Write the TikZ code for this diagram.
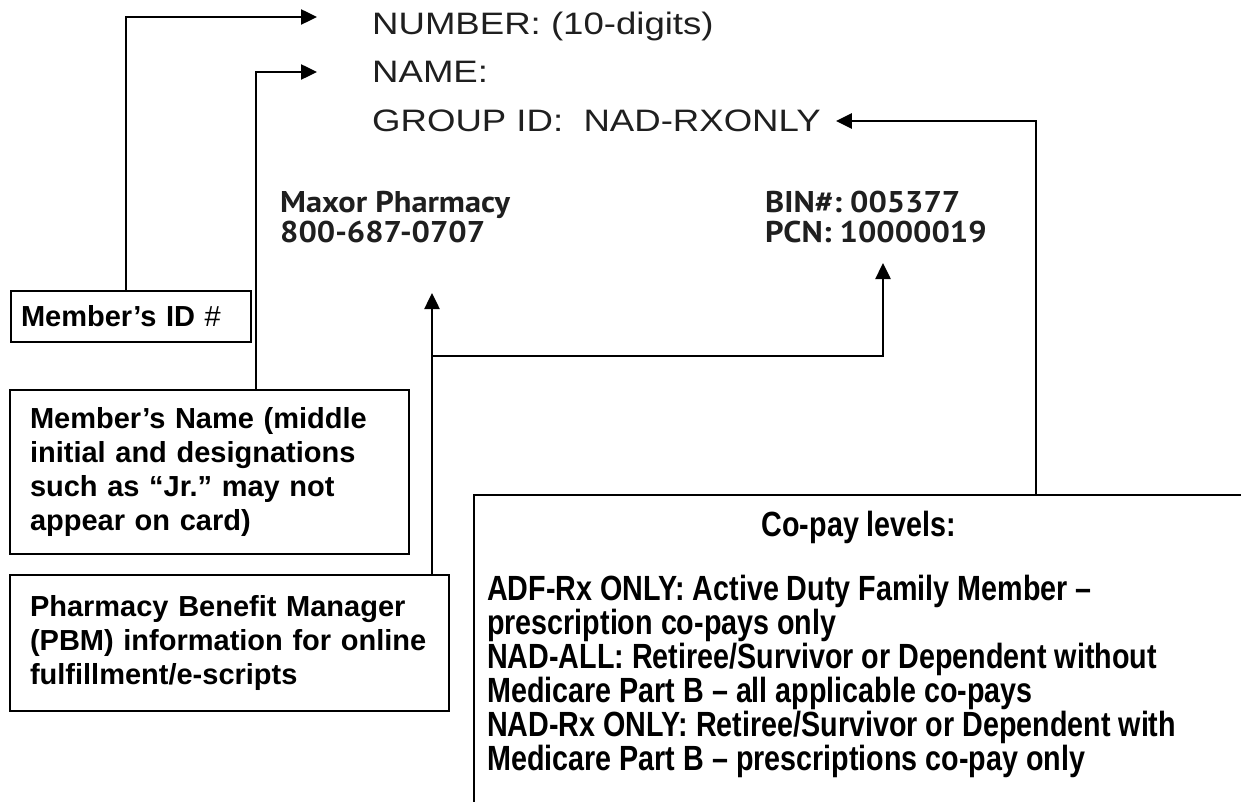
\documentclass[tikz,border=0pt]{standalone}
\usepackage{fontspec}
\setmainfont{Liberation Sans}
\newfontfamily\widefont[FakeStretch=1.18]{Liberation Sans}
\newfontfamily\cardfont[FakeStretch=1.08]{PT Sans}
\newfontfamily\narrowfont[FakeStretch=0.82]{Liberation Sans}
\usetikzlibrary{positioning, arrows.meta}
\frenchspacing
\tikzset{
    x=1pt, y=-1pt, % one unit is one pixel of the card picture
    pointer/.style={line width=2.5pt, -{Triangle[length=16pt,width=15pt]}}, % arrows to the card fields
    callout/.style={draw, line width=2pt, anchor=north west, align=left, inner xsep=20pt, inner ysep=0pt,
        font=\bfseries\fontsize{29}{34}\selectfont},
    cardline/.style={anchor=base west, inner sep=0pt, text=black!88, font=\widefont\fontsize{31}{51}\selectfont},
    cardbold/.style={anchor=base west, inner sep=0pt, text=black!88, font=\cardfont\bfseries\fontsize{30}{30}\selectfont},
    copaytext/.style={inner sep=0pt, font=\narrowfont\bfseries\fontsize{35}{34}\selectfont},
}

\begin{document}
\begin{tikzpicture}
    \useasboundingbox (0,0) rectangle (1241,802);
    \clip (0,0) rectangle (1241,802);

    % the card
    \node[cardline] (cardnumber) at (372,35) {NUMBER: (10-digits)};
    \node[cardline] (cardname) at (372,83) {NAME:};
    \node[cardline] (cardgroup) at (372,132) {GROUP ID:\ \ NAD-RXONLY};
    \node[cardbold] (maxor) at (280,213) {Maxor Pharmacy};
    \node[cardbold] (phone) at (280,243) {800-687-0707};
    \node[cardbold] (bin) at (765,213) {BIN\#: 005377};
    \node[cardbold] (pcn) at (765,243) {PCN: 10000019};

    % the call-outs
    \node[callout, text width=220pt, inner xsep=10pt, minimum height=51pt] (idbox) at (10,290)
        {Member’s ID {\mdseries\#}};
    \node[callout, text width=359pt, minimum height=164pt] (namebox) at (9,389)
        {Member’s Name (middle\\initial and designations\\such as “Jr.” may not\\appear on card)};
    \node[callout, text width=399pt, minimum height=136pt] (pbmbox) at (9,574)
        {Pharmacy Benefit Manager\\(PBM) information for online\\fulfillment/e-scripts};
    \node[draw, line width=2pt, anchor=north west, minimum width=770pt, minimum height=360pt] (copay) at (473,494) {};
    \node[copaytext, anchor=base] (copayhead) at ([yshift=-42pt]copay.north) {Co-pay levels:};
    \node[copaytext, anchor=north west, align=left] (copaybody) at ([xshift=14pt,yshift=-81pt]copay.north west)
        {\lineskiplimit=-20pt ADF-Rx ONLY: Active Duty Family Member –\\
         prescription co-pays only\\
         NAD-ALL: Retiree/Survivor or Dependent without\\
         Medicare Part B – all applicable co-pays\\
         NAD-Rx ONLY: Retiree/Survivor or Dependent with\\
         Medicare Part B – prescriptions co-pay only};

    % where the lines leave the boxes and where they point
    \coordinate (idx) at (126,0);
    \coordinate (namex) at (256,0);
    \coordinate (groupx) at (1036,0);
    \coordinate (maxtip) at ([shift={(152,50)}]phone.base west);
    \coordinate (pcntip) at ([shift={(118,20)}]pcn.base west);
    \coordinate (split) at ([yshift=-63pt]maxtip);

    \draw[pointer] (idbox.north -| idx) |- ([shift={(-55,-18)}]cardnumber.base west);
    \draw[pointer] (namebox.north -| namex) |- ([shift={(-55,-11)}]cardname.base west);
    \draw[pointer] (copay.north -| groupx) |- ([shift={(15,-11)}]cardgroup.base east);
    \draw[pointer] (pbmbox.north -| maxtip) -- (maxtip);
    \draw[pointer] (split) -| (pcntip);
\end{tikzpicture}
\end{document}
